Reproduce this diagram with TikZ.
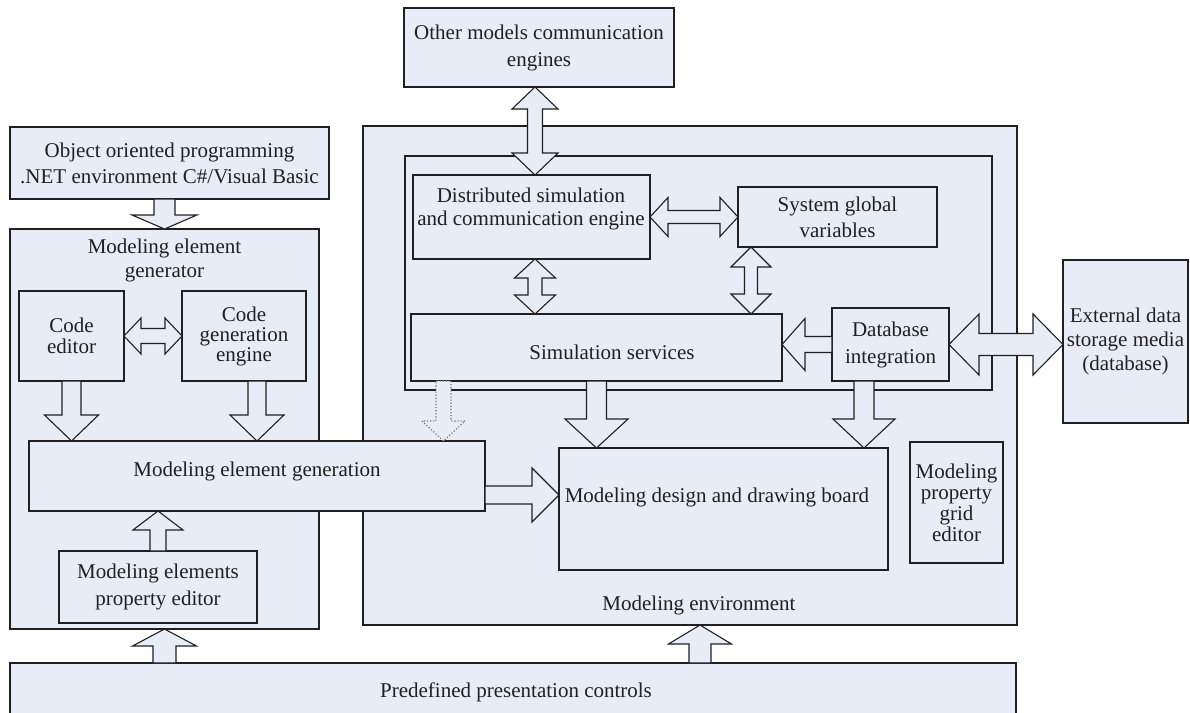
\documentclass[tikz,border=0pt]{standalone}
\usepackage{fontspec}
\setmainfont{Liberation Serif}
\usetikzlibrary{calc}

\definecolor{boxfill}{RGB}{231,237,246}
\definecolor{ink}{RGB}{35,31,32}
\definecolor{dotink}{RGB}{105,105,105}

\tikzset{
  box/.style={draw=ink, fill=boxfill, line width=1.2pt, inner sep=0pt, outer sep=0pt},
  txt/.style={font=\fontsize{21}{#1}\selectfont, align=center, inner sep=0pt, text=ink},
  txt/.default=25,
  blockarrow/.style={draw=ink, fill=boxfill, line width=1.1pt, line join=miter},
  dottedarrow/.style={draw=dotink, fill=boxfill, line width=1.1pt, dotted, line join=miter},
}

% rectangle node given by its corners (x1,y1) and (x2,y2)
\newcommand\boxnode[7][]{%
  \pgfmathsetmacro\bw{#5-#3}\pgfmathsetmacro\bh{#6-#4}%
  \pgfmathsetmacro\bx{(#3+#5)/2}\pgfmathsetmacro\by{(#4+#6)/2}%
  \node[box,minimum width=\bw pt,minimum height=\bh pt,#1] (#2) at (\bx,\by) {#7};}

% length and direction between two points
\newcommand\arrowgeom[2]{%
  \path let \p1=($#2-#1$) in \pgfextra{%
    \pgfmathsetmacro\alen{veclen(\x1,\y1)}%
    \pgfmathsetmacro\aang{atan2(\y1,\x1)}%
    \global\let\alen\alen\global\let\aang\aang};}

% block arrow: from, to, half shaft width, half head width, head length
\newcommand\singlearrow[6][blockarrow]{%
  \arrowgeom{#2}{#3}%
  \begin{scope}[shift={#2}, rotate=\aang, x=1pt, y=1pt]
    \draw[#1] (0,#4) -- ({\alen-#6},#4) -- ({\alen-#6},#5) -- (\alen,0)
      -- ({\alen-#6},-#5) -- ({\alen-#6},-#4) -- (0,-#4) -- cycle;
  \end{scope}}

% two-headed block arrow
\newcommand\doublearrow[6][blockarrow]{%
  \arrowgeom{#2}{#3}%
  \begin{scope}[shift={#2}, rotate=\aang, x=1pt, y=1pt]
    \draw[#1] (0,0) -- (#6,#5) -- (#6,#4) -- ({\alen-#6},#4) -- ({\alen-#6},#5) -- (\alen,0)
      -- ({\alen-#6},-#5) -- ({\alen-#6},-#4) -- (#6,-#4) -- (#6,-#5) -- cycle;
  \end{scope}}

\begin{document}
\begin{tikzpicture}[x=1pt,y=-1pt]
\useasboundingbox (0,0) rectangle (1190,712);

% containers
\boxnode{env}{363}{126}{1017}{625}{}
\boxnode{gen}{10}{229}{319}{629}{}
\boxnode[fill=none]{frame}{405}{156}{992}{390}{}

% outer boxes
\boxnode[txt=27]{other}{404}{8}{674}{87}{Other models communication\\engines}
\boxnode[txt=26]{oop}{10}{127}{329}{199}{Object oriented programming\\.NET environment C\#/Visual Basic}
\boxnode[txt=24]{ext}{1063}{260}{1188}{423}{External data\\storage media\\(database)}
\boxnode{pre}{10}{663}{1016}{716}{}

% inner boxes
\boxnode[txt=21]{codeed}{19}{291}{124}{381}{Code\\editor}
\boxnode[txt=20]{codegen}{182}{291}{306}{381}{Code\\generation\\engine}
\boxnode{meg}{29}{441}{485}{511}{}
\boxnode[txt=27]{propedit}{59}{551}{257}{623}{Modeling elements\\property editor}
\boxnode{dist}{413}{175}{650}{259}{}
\boxnode[txt=26]{sysvar}{738}{187}{937}{247}{System global\\variables}
\boxnode{sim}{411}{314}{782}{381}{}
\boxnode[txt=27]{dbint}{832}{308}{949}{381}{Database\\integration}
\boxnode{board}{559}{448}{888}{570}{}
\boxnode[txt=21]{grid}{910}{442}{1003}{563}{Modeling\\property\\grid\\editor}

% labels placed off the box centres
\node[txt=24] (gentitle) at (164.5,260) {Modeling element\\generator};
\node[txt] (envtitle) at (699,605) {Modeling environment};
\node[txt=23] (disttext) at (531,208.5) {Distributed simulation\\and communication engine};
\node[txt] (simtext) at (612,352) {Simulation services};
\node[txt] (megtext) at (257,471) {Modeling element generation};
\node[txt] (boardtext) at (717,497) {Modeling design and drawing board};
\node[txt] (pretext) at (516,692) {Predefined presentation controls};

% guide positions for arrow axes
\coordinate (cA) at (535,0);
\coordinate (cB) at (751,0);
\coordinate (cC) at (443.5,0);
\coordinate (cD) at (864,0);
\coordinate (cE) at (0,495);
\coordinate (cF) at (700,0);

% block arrows
\singlearrow{(gen.north |- oop.south)}{(gen.north)}{10.5}{32.5}{14}
\doublearrow{(codeed.east)}{(codegen.west)}{7.5}{18}{17}
\singlearrow{(codeed.south)}{(codeed.south |- meg.north)}{9.5}{27}{26}
\singlearrow{(meg.north |- codegen.south)}{(meg.north)}{9}{27}{26}
\singlearrow{(propedit.north)}{(propedit.north |- meg.south)}{8}{25}{19}
\singlearrow{(gen.south |- pre.north)}{(gen.south)}{11.5}{32}{17}
\singlearrow{(cF |- pre.north)}{(cF |- env.south)}{11}{31.5}{19}
\doublearrow{(cA |- other.south)}{(cA |- dist.north)}{7.5}{23}{22}
\doublearrow{(dist.east)}{(sysvar.west)}{6.5}{19.5}{18}
\doublearrow{(cA |- dist.south)}{(cA |- sim.north)}{7}{20.5}{19}
\doublearrow{(cB |- sysvar.south)}{(cB |- sim.north)}{6.5}{20}{20}
\singlearrow{(dbint.west)}{(dbint.west -| sim.east)}{8}{26}{23}
\doublearrow{(dbint.east)}{(dbint.east -| ext.west)}{11}{30.5}{30}
\singlearrow{(sim.south)}{(sim.south |- board.north)}{10}{31.5}{29}
\singlearrow[dottedarrow]{(cC |- sim.south)}{(cC |- meg.north)}{7.5}{21.5}{20}
\singlearrow{(cD |- dbint.south)}{(cD |- board.north)}{10}{31}{29}
\singlearrow{(meg.east |- cE)}{(board.west |- cE)}{9}{27}{27}
\end{tikzpicture}
\end{document}
